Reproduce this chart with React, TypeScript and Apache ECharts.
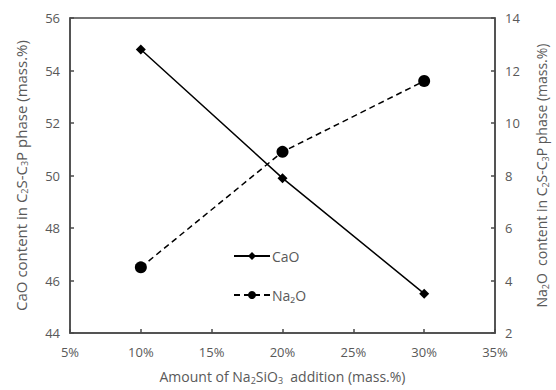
import React, { useEffect, useRef } from "react";
import * as echarts from "echarts";

const xValues = [10, 20, 30];
const caoValues = [54.8, 49.9, 45.5];
const na2oValues = [4.5, 8.9, 11.6];
const seriesNames = ["CaO", "Na₂O"];

const FONT = "Open Sans";
const GRAY = "#595959";
const AXIS = "#4a4a4a";

function richFor(size: number) {
  return {
    n: { fontSize: size, color: GRAY, fontFamily: FONT },
    s: { fontSize: Math.round(size * 0.62), color: GRAY, fontFamily: FONT, padding: [Math.round(size * 0.55), 0, 0, 0] },
  };
}

export default function App() {
  const ref = useRef<HTMLDivElement>(null);
  useEffect(() => {
    if (!ref.current) return;
    const chart = echarts.init(ref.current, undefined, { renderer: "svg" });
    chart.setOption({
      animation: false,
      backgroundColor: "#fff",
      textStyle: { fontFamily: FONT },
      grid: {
        left: 70,
        right: 61,
        top: 18,
        bottom: 57,
        show: true,
        borderColor: AXIS,
        borderWidth: 1.5,
        containLabel: false,
        outerBoundsMode: "none",
      },
      legend: {
        orient: "vertical",
        left: 228,
        top: 244,
        itemGap: 25,
        itemWidth: 36,
        itemHeight: 10,
        itemStyle: { borderWidth: 0 },
        textStyle: { color: GRAY, fontSize: 14, fontFamily: FONT, padding: [0, 0, 0, -3] },
        data: seriesNames,
      },
      xAxis: {
        type: "value",
        min: 5,
        max: 35,
        interval: 5,
        name: "{n|Amount of Na}{s|2}{n|SiO}{s|3}{n|  addition (mass.%)}",
        nameLocation: "middle",
        nameGap: 35,
        nameTextStyle: { rich: richFor(14) },
        axisLine: { show: true, lineStyle: { color: AXIS, width: 1.5 } },
        axisTick: { show: true, inside: true, length: 4, lineStyle: { color: AXIS, width: 1.5 } },
        axisLabel: { color: GRAY, fontSize: 13, fontFamily: FONT, margin: 12, formatter: (v: number) => `${v}%` },
        splitLine: { show: false },
      },
      yAxis: [
        {
          type: "value",
          min: 44,
          max: 56,
          interval: 2,
          position: "left",
          name: "{n|CaO content in C}{s|2}{n|S-C}{s|3}{n|P phase (mass.%)}",
          nameLocation: "middle",
          nameRotate: 90,
          nameGap: 41,
          nameTextStyle: { rich: richFor(15) },
          axisLine: { show: true, lineStyle: { color: AXIS, width: 1.5 } },
          axisTick: { show: true, inside: true, length: 4, lineStyle: { color: AXIS, width: 1.5 } },
          axisLabel: { color: GRAY, fontSize: 13, fontFamily: FONT, margin: 10 },
          splitLine: { show: false },
        },
        {
          type: "value",
          min: 2,
          max: 14,
          interval: 2,
          position: "right",
          name: "{n|Na}{s|2}{n|O  content in C}{s|2}{n|S-C}{s|3}{n|P phase (mass.%)}",
          nameLocation: "middle",
          nameRotate: 90,
          nameGap: 38,
          nameTextStyle: { rich: richFor(14) },
          axisLine: { show: true, lineStyle: { color: AXIS, width: 1.5 } },
          axisTick: { show: true, inside: true, length: 4, lineStyle: { color: AXIS, width: 1.5 } },
          axisLabel: { color: GRAY, fontSize: 13, fontFamily: FONT, margin: 10 },
          splitLine: { show: false },
        },
      ],
      series: [
        {
          name: seriesNames[0],
          type: "line",
          yAxisIndex: 0,
          data: xValues.map((x, i) => [x, caoValues[i]]),
          symbol: "diamond",
          symbolSize: 10,
          itemStyle: { color: "#000" },
          lineStyle: { color: "#000", width: 1.5 },
        },
        {
          name: seriesNames[1],
          type: "line",
          yAxisIndex: 1,
          data: xValues.map((x, i) => [x, na2oValues[i]]),
          symbol: "circle",
          symbolSize: 12,
          itemStyle: { color: "#000" },
          lineStyle: { color: "#000", width: 1.5, type: [6, 4] },
        },
      ],
    });
    return () => chart.dispose();
  }, []);
  return (
    <div
      ref={ref}
      style={{ position: "fixed", left: 0, top: 0, width: 556, height: 390 }}
    />
  );
}
